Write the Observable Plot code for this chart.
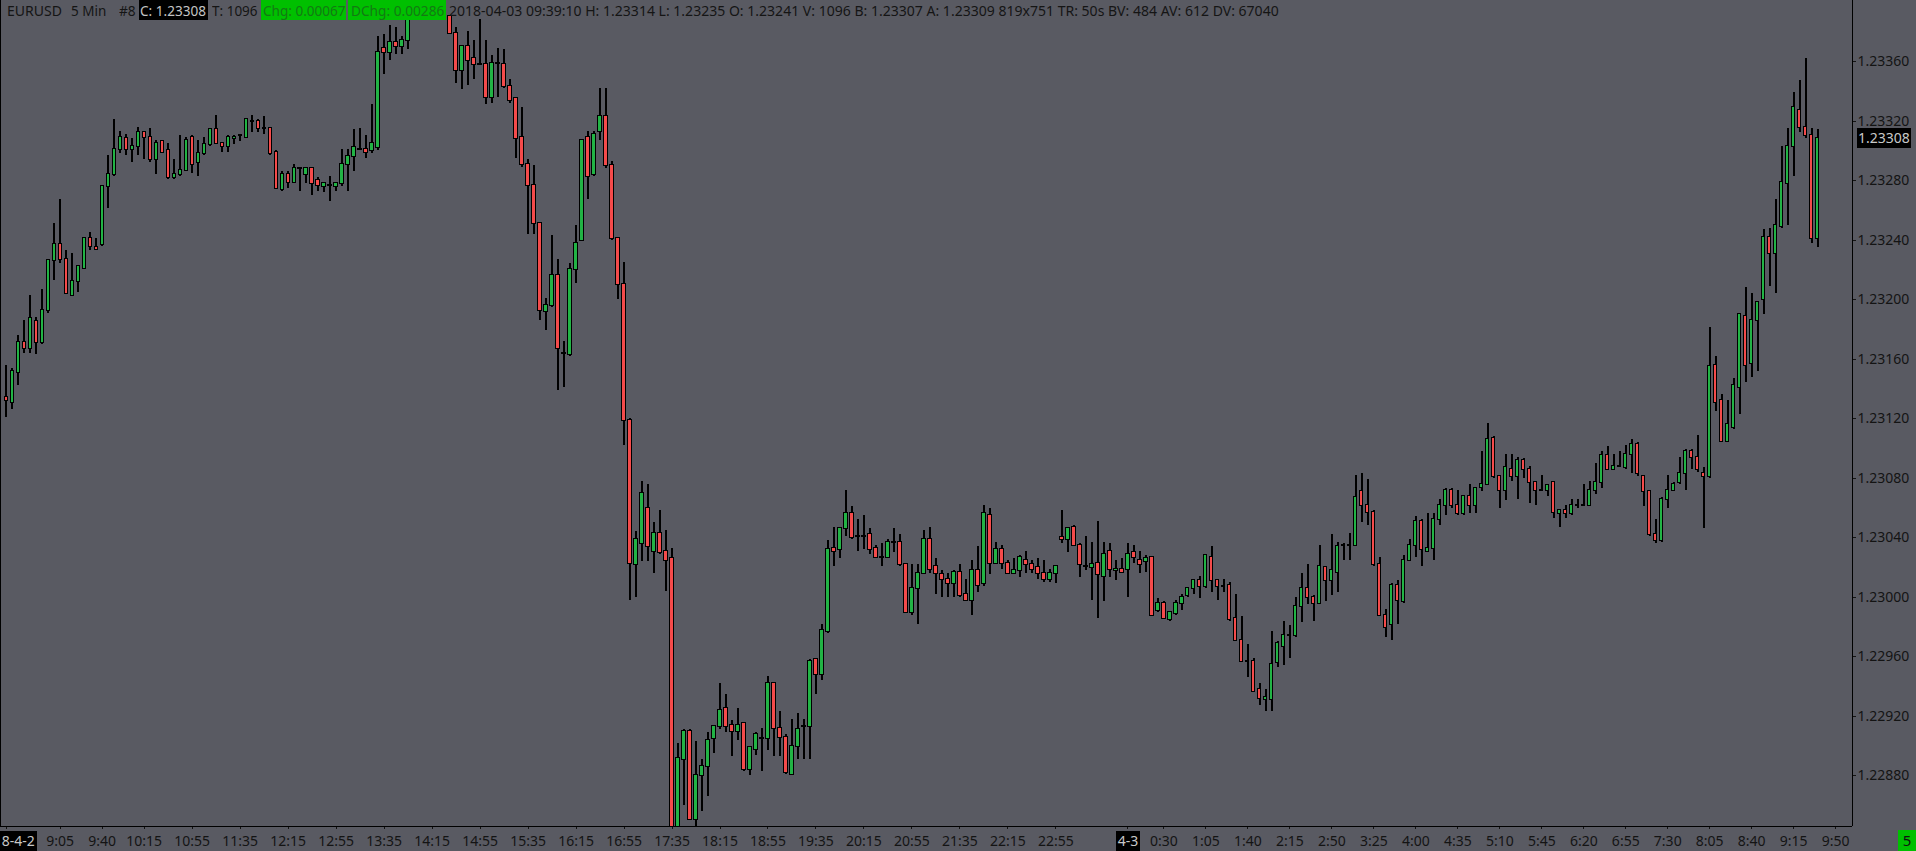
<!DOCTYPE html>
<html>
<head>
<meta charset="utf-8">
<script src="https://cdn.jsdelivr.net/npm/d3@7"></script>
<script src="https://cdn.jsdelivr.net/npm/@observablehq/plot@0.6"></script>
<style>
  html, body { margin: 0; padding: 0; background: #595a62; overflow: hidden; }
  #wrap { position: relative; width: 1916px; height: 851px; }
  #wrap svg { position: absolute; left: 0; top: 0; shape-rendering: crispEdges; }
  #wrap svg text { shape-rendering: auto; }
  .seg { position: absolute; top: 0; height: 20px; line-height: 20px; white-space: nowrap;
         font-family: "Segoe UI", "Noto Sans", sans-serif; font-size: 15px; color: #151515; }
  .seg span { display: inline-block; transform-origin: 0 50%; }
</style>
</head>
<body>
<div id="wrap"></div>
<script>
// ---------------- DATA (EURUSD, 5 Min bars, 2018-04-02 08:20 → 2018-04-03 09:35) ----------------
const openP = [
1.23134,1.23131,1.23151,1.23171,1.23167,1.23185,1.23171,1.23193,1.23226,1.23237,
1.23227,1.23203,1.23212,1.23221,1.23241,1.23235,1.23237,1.23276,1.23284,1.23301,
1.23308,1.23301,1.23303,1.23312,1.23309,1.23294,1.23306,1.23300,1.23282,1.23284,
1.23287,1.23309,1.23292,1.23298,1.23304,1.23314,1.23305,1.23303,1.23308,1.23310,
1.23309,1.23320,1.23320,1.23315,1.23315,1.23299,1.23274,1.23284,1.23279,1.23288,
1.23284,1.23288,1.23280,1.23276,1.23277,1.23276,1.23278,1.23291,1.23296,1.23301,
1.23301,1.23300,1.23302,1.23369,1.23366,1.23373,1.23370,1.23374,1.23393,1.23398,
1.23402,1.23399,1.23395,1.23397,1.23390,1.23379,1.23354,1.23370,1.23362,1.23358,
1.23358,1.23336,1.23359,1.23358,1.23343,1.23335,1.23309,1.23291,1.23277,1.23251,
1.23192,1.23196,1.23216,1.23164,1.23163,1.23220,1.23240,1.23309,1.23284,1.23313,
1.23323,1.23290,1.23241,1.23210,1.23119,1.23022,1.23036,1.23060,1.23031,1.23043,
1.23031,1.23026,1.22843,1.22891,1.22910,1.22851,1.22880,1.22886,1.22905,1.22913,
1.22925,1.22914,1.22910,1.22915,1.22884,1.22898,1.22905,1.22905,1.22942,1.22912,
1.22906,1.22881,1.22900,1.22913,1.22913,1.22958,1.22948,1.22977,1.23033,1.23032,
1.23046,1.23056,1.23041,1.23041,1.23042,1.23033,1.23027,1.23027,1.23037,1.23037,
1.23022,1.22990,1.23006,1.23016,1.23039,1.23021,1.23015,1.23012,1.23009,1.23017,
1.23002,1.22998,1.23018,1.23009,1.23055,1.23023,1.23032,1.23023,1.23016,1.23018,
1.23025,1.23022,1.23020,1.23016,1.23012,1.23016,1.23040,1.23039,1.23047,1.23035,
1.23021,1.23020,1.23023,1.23014,1.23031,1.23018,1.23019,1.23019,1.23030,1.23025,
1.23024,1.23027,1.22991,1.22996,1.22985,1.22989,1.22996,1.23001,1.23006,1.23011,
1.23007,1.23027,1.23011,1.23007,1.23008,1.22986,1.22971,1.22957,1.22957,1.22938,
1.22931,1.22931,1.22956,1.22967,1.22974,1.22974,1.22994,1.23006,1.23000,1.22996,
1.23020,1.23011,1.23017,1.23035,1.23035,1.23035,1.23071,1.23062,1.23057,1.23022,
1.22988,1.22982,1.23008,1.22997,1.23025,1.23035,1.23051,1.23031,1.23033,1.23052,
1.23062,1.23072,1.23062,1.23056,1.23068,1.23062,1.23074,1.23076,1.23107,1.23081,
1.23072,1.23086,1.23081,1.23092,1.23086,1.23077,1.23072,1.23072,1.23077,1.23056,
1.23058,1.23056,1.23062,1.23062,1.23062,1.23072,1.23077,1.23095,1.23086,1.23088,
1.23087,1.23096,1.23103,1.23081,1.23071,1.23042,1.23038,1.23066,1.23072,1.23077,
1.23083,1.23098,1.23094,1.23083,1.23081,1.23156,1.23132,1.23105,1.23114,1.23141,
1.23189,1.23157,1.23186,1.23200,1.23242,1.23231,1.23249,1.23278,1.23303,1.23327,
1.23316,1.23310,1.23241];
const highP = [
1.23156,1.23154,1.23176,1.23186,1.23203,1.23188,1.23207,1.23226,1.23251,1.23267,
1.23233,1.23231,1.23223,1.23241,1.23245,1.23241,1.23277,1.23297,1.23321,1.23313,
1.23311,1.23308,1.23316,1.23313,1.23315,1.23307,1.23307,1.23305,1.23294,1.23310,
1.23309,1.23310,1.23307,1.23309,1.23315,1.23324,1.23305,1.23310,1.23310,1.23311,
1.23322,1.23324,1.23321,1.23323,1.23316,1.23300,1.23286,1.23286,1.23291,1.23289,
1.23289,1.23289,1.23282,1.23279,1.23283,1.23279,1.23301,1.23301,1.23314,1.23315,
1.23310,1.23331,1.23377,1.23378,1.23384,1.23383,1.23377,1.23398,1.23400,1.23405,
1.23408,1.23404,1.23401,1.23400,1.23391,1.23383,1.23371,1.23380,1.23374,1.23388,
1.23374,1.23364,1.23369,1.23368,1.23348,1.23335,1.23329,1.23294,1.23290,1.23251,
1.23201,1.23243,1.23227,1.23172,1.23224,1.23250,1.23307,1.23313,1.23313,1.23342,
1.23342,1.23293,1.23241,1.23225,1.23120,1.23044,1.23078,1.23076,1.23050,1.23058,
1.23045,1.23033,1.22902,1.22911,1.22911,1.22903,1.22891,1.22909,1.22914,1.22942,
1.22935,1.22917,1.22925,1.22915,1.22899,1.22909,1.22912,1.22947,1.22943,1.22923,
1.22908,1.22918,1.22922,1.22918,1.22958,1.22958,1.22982,1.23038,1.23047,1.23047,
1.23072,1.23061,1.23052,1.23055,1.23046,1.23035,1.23036,1.23039,1.23046,1.23042,
1.23022,1.23022,1.23022,1.23045,1.23047,1.23026,1.23018,1.23016,1.23018,1.23022,
1.23012,1.23025,1.23034,1.23062,1.23060,1.23037,1.23035,1.23025,1.23026,1.23028,
1.23031,1.23025,1.23026,1.23025,1.23019,1.23021,1.23058,1.23047,1.23048,1.23036,
1.23041,1.23037,1.23051,1.23037,1.23036,1.23025,1.23026,1.23036,1.23035,1.23031,
1.23028,1.23027,1.22999,1.22997,1.22990,1.22998,1.23002,1.23006,1.23012,1.23014,
1.23029,1.23034,1.23012,1.23012,1.23010,1.23002,1.22987,1.22968,1.22959,1.22942,
1.22938,1.22977,1.22970,1.22984,1.22981,1.23000,1.23016,1.23022,1.23001,1.23035,
1.23021,1.23042,1.23037,1.23036,1.23043,1.23082,1.23083,1.23079,1.23058,1.23027,
1.22992,1.23009,1.23011,1.23028,1.23039,1.23054,1.23052,1.23056,1.23056,1.23066,
1.23073,1.23073,1.23072,1.23068,1.23076,1.23074,1.23098,1.23117,1.23108,1.23081,
1.23096,1.23096,1.23094,1.23093,1.23088,1.23078,1.23082,1.23076,1.23078,1.23058,
1.23062,1.23066,1.23066,1.23076,1.23078,1.23090,1.23098,1.23101,1.23096,1.23098,
1.23102,1.23106,1.23104,1.23082,1.23072,1.23052,1.23067,1.23082,1.23077,1.23094,
1.23099,1.23099,1.23109,1.23087,1.23181,1.23162,1.23136,1.23132,1.23147,1.23191,
1.23208,1.23204,1.23199,1.23247,1.23248,1.23267,1.23303,1.23315,1.23339,1.23347,
1.23362,1.23315,1.23314];
const lowP = [
1.23121,1.23126,1.23142,1.23164,1.23164,1.23163,1.23170,1.23191,1.23213,1.23224,
1.23204,1.23202,1.23205,1.23220,1.23233,1.23233,1.23236,1.23261,1.23283,1.23298,
1.23297,1.23292,1.23297,1.23294,1.23292,1.23284,1.23298,1.23281,1.23281,1.23283,
1.23286,1.23285,1.23283,1.23297,1.23303,1.23304,1.23299,1.23299,1.23304,1.23306,
1.23308,1.23312,1.23312,1.23311,1.23297,1.23274,1.23273,1.23275,1.23278,1.23273,
1.23278,1.23270,1.23273,1.23272,1.23266,1.23273,1.23276,1.23273,1.23286,1.23300,
1.23295,1.23298,1.23300,1.23351,1.23361,1.23365,1.23365,1.23368,1.23390,1.23394,
1.23396,1.23393,1.23391,1.23390,1.23378,1.23345,1.23341,1.23344,1.23348,1.23357,
1.23331,1.23332,1.23336,1.23342,1.23332,1.23295,1.23289,1.23244,1.23244,1.23186,
1.23179,1.23195,1.23139,1.23141,1.23162,1.23211,1.23239,1.23267,1.23283,1.23307,
1.23288,1.23240,1.23200,1.23102,1.22998,1.23000,1.23024,1.23024,1.23016,1.23029,
1.23004,1.22835,1.22836,1.22860,1.22850,1.22845,1.22856,1.22866,1.22895,1.22911,
1.22909,1.22893,1.22904,1.22883,1.22880,1.22894,1.22883,1.22897,1.22893,1.22893,
1.22881,1.22880,1.22891,1.22891,1.22891,1.22935,1.22944,1.22976,1.23021,1.23026,
1.23041,1.23039,1.23031,1.23032,1.23029,1.23026,1.23021,1.23026,1.23030,1.23021,
1.22989,1.22988,1.22982,1.23015,1.23016,1.23002,1.23000,1.23000,1.23000,1.23000,
1.22997,1.22988,1.23003,1.23007,1.23015,1.23022,1.23019,1.23015,1.23015,1.23013,
1.23016,1.23016,1.23012,1.23010,1.23010,1.23009,1.23036,1.23030,1.23034,1.23013,
1.23018,1.22998,1.22986,1.22997,1.23013,1.23011,1.23016,1.23000,1.23023,1.23016,
1.23017,1.22987,1.22990,1.22985,1.22984,1.22988,1.22991,1.23000,1.23002,1.22999,
1.23006,1.23003,1.22998,1.23003,1.22984,1.22970,1.22956,1.22946,1.22936,1.22927,
1.22923,1.22923,1.22953,1.22954,1.22959,1.22973,1.22983,1.22995,1.22984,1.22995,
1.22997,1.23001,1.23003,1.23025,1.23025,1.23034,1.23050,1.23048,1.23021,1.22987,
1.22973,1.22971,1.22982,1.22996,1.23024,1.23027,1.23021,1.23030,1.23025,1.23048,
1.23055,1.23060,1.23055,1.23055,1.23056,1.23056,1.23071,1.23075,1.23080,1.23060,
1.23065,1.23078,1.23066,1.23080,1.23063,1.23062,1.23071,1.23068,1.23053,1.23047,
1.23053,1.23055,1.23060,1.23061,1.23061,1.23069,1.23073,1.23085,1.23085,1.23087,
1.23086,1.23083,1.23081,1.23061,1.23041,1.23036,1.23037,1.23060,1.23071,1.23076,
1.23072,1.23086,1.23084,1.23046,1.23080,1.23125,1.23104,1.23104,1.23113,1.23123,
1.23144,1.23148,1.23152,1.23190,1.23209,1.23204,1.23248,1.23250,1.23283,1.23312,
1.23308,1.23238,1.23235];
const closeP = [
1.23132,1.23152,1.23171,1.23167,1.23187,1.23171,1.23193,1.23226,1.23237,1.23227,
1.23204,1.23212,1.23222,1.23241,1.23236,1.23234,1.23276,1.23284,1.23301,1.23309,
1.23301,1.23303,1.23312,1.23309,1.23294,1.23305,1.23299,1.23282,1.23284,1.23287,
1.23307,1.23291,1.23298,1.23304,1.23314,1.23305,1.23303,1.23309,1.23309,1.23310,
1.23321,1.23320,1.23315,1.23315,1.23298,1.23275,1.23284,1.23279,1.23288,1.23288,
1.23288,1.23278,1.23277,1.23278,1.23277,1.23278,1.23291,1.23296,1.23302,1.23301,
1.23299,1.23305,1.23366,1.23366,1.23373,1.23370,1.23374,1.23393,1.23398,1.23402,
1.23399,1.23395,1.23397,1.23391,1.23379,1.23354,1.23370,1.23361,1.23358,1.23358,
1.23336,1.23359,1.23359,1.23343,1.23334,1.23308,1.23291,1.23277,1.23251,1.23193,
1.23196,1.23216,1.23167,1.23164,1.23220,1.23238,1.23307,1.23283,1.23311,1.23323,
1.23290,1.23241,1.23210,1.23119,1.23023,1.23039,1.23070,1.23034,1.23043,1.23030,
1.23025,1.22842,1.22892,1.22910,1.22851,1.22880,1.22886,1.22904,1.22913,1.22924,
1.22913,1.22910,1.22914,1.22884,1.22899,1.22908,1.22905,1.22942,1.22912,1.22906,
1.22882,1.22900,1.22911,1.22913,1.22957,1.22948,1.22978,1.23032,1.23031,1.23046,
1.23056,1.23040,1.23041,1.23041,1.23032,1.23027,1.23027,1.23037,1.23037,1.23022,
1.22990,1.23006,1.23016,1.23039,1.23019,1.23016,1.23012,1.23009,1.23017,1.23001,
1.22998,1.23018,1.23008,1.23056,1.23023,1.23032,1.23023,1.23016,1.23018,1.23027,
1.23022,1.23019,1.23016,1.23012,1.23016,1.23021,1.23039,1.23046,1.23035,1.23022,
1.23021,1.23022,1.23015,1.23029,1.23019,1.23019,1.23017,1.23029,1.23027,1.23022,
1.23026,1.22988,1.22996,1.22986,1.22990,1.22996,1.23000,1.23006,1.23011,1.23007,
1.23028,1.23011,1.23007,1.23007,1.22985,1.22971,1.22957,1.22957,1.22937,1.22932,
1.22933,1.22955,1.22969,1.22974,1.22974,1.22994,1.23006,1.23000,1.22996,1.23021,
1.23011,1.23018,1.23034,1.23035,1.23035,1.23067,1.23062,1.23057,1.23022,1.22988,
1.22980,1.23008,1.22998,1.23025,1.23035,1.23051,1.23032,1.23033,1.23052,1.23062,
1.23072,1.23062,1.23056,1.23068,1.23062,1.23073,1.23076,1.23106,1.23081,1.23072,
1.23087,1.23081,1.23092,1.23086,1.23077,1.23072,1.23072,1.23075,1.23057,1.23058,
1.23056,1.23062,1.23062,1.23062,1.23072,1.23077,1.23095,1.23086,1.23088,1.23088,
1.23096,1.23103,1.23083,1.23071,1.23042,1.23038,1.23066,1.23072,1.23076,1.23083,
1.23098,1.23094,1.23086,1.23081,1.23155,1.23131,1.23105,1.23116,1.23142,1.23190,
1.23156,1.23186,1.23198,1.23242,1.23231,1.23250,1.23279,1.23303,1.23329,1.23316,
1.23310,1.23241,1.23308];

const firstBarTime = "8:20";   // first bar of 2018-4-2
const lastBarTime = "9:35";    // last bar of 2018-4-3
const dateLabels = ["2018-4-2", "4-3"];
const xTickLabels = ["2018-4-2","9:05","9:40","10:15","10:55","11:35","12:15","12:55","13:35","14:15",
  "14:55","15:35","16:15","16:55","17:35","18:15","18:55","19:35","20:15","20:55","21:35","22:15","22:55",
  "4-3","0:30","1:05","1:40","2:15","2:50","3:25","4:00","4:35","5:10","5:45","6:20","6:55","7:30",
  "8:05","8:40","9:15","9:50"];
const yTicks = [1.22880,1.22920,1.22960,1.23000,1.23040,1.23080,1.23120,1.23160,1.23200,1.23240,1.23280,1.23320,1.23360];

const headerText = [
  {t: "EURUSD"}, {t: "5 Min"}, {t: "#8"},
  {t: "C: " + closeP[closeP.length - 1].toFixed(5), kind: "dark"},
  {t: "T: 1096"},
  {t: "Chg: 0.00067", kind: "green"},
  {t: "DChg: 0.00286", kind: "green"},
  {t: "2018-04-03 09:39:10 H: " + highP[highP.length-1].toFixed(5) + " L: " + lowP[lowP.length-1].toFixed(5) +
      " O: " + openP[openP.length-1].toFixed(5) + " V: 1096 B: 1.23307 A: 1.23309 819x751 TR: 50s BV: 484 AV: 612 DV: 67040"}
];
const intervalBadge = "5";

// ---------------- STYLE ----------------
const BG = "#595a62";
const UP = "#22b345";
const DOWN = "#f44b4b";
const FONT = "'Segoe UI', 'Noto Sans', sans-serif";

// ---------------- BUILD ----------------
const bars = openP.map((o, i) => ({i, o, h: highP[i], l: lowP[i], c: closeP[i]}));
const toMin = s => { const [h, m] = s.split(":").map(Number); return h * 60 + m; };
const lastIdx = bars.length - 1;
const day2Start = lastIdx - toMin(lastBarTime) / 5;   // index of the first bar of 4-3
const tickIdx = [];
const labelAt = new Map();
let day = 0;
for (const lab of xTickLabels) {
  let idx;
  if (lab === dateLabels[0]) { idx = 0; day = 0; }
  else if (lab === dateLabels[1]) { idx = day2Start; day = 1; }
  else idx = day === 0 ? (toMin(lab) - toMin(firstBarTime)) / 5 : day2Start + toMin(lab) / 5;
  tickIdx.push(idx); labelAt.set(idx, lab);
}
const xDomain = [-0.95, 307.8];
const yDomain = [1.22846, 1.23401];
const last = bars[lastIdx];

const chart = Plot.plot({
  width: 1916, height: 851,
  marginLeft: 0, marginRight: 64, marginTop: 0, marginBottom: 25,
  style: {background: BG, color: "#141414", fontFamily: FONT, fontSize: "14px", overflow: "visible"},
  x: {type: "linear", domain: xDomain, ticks: tickIdx, tickFormat: i => labelAt.get(i), tickSize: 3, tickPadding: 7, label: null},
  y: {type: "linear", domain: yDomain, ticks: yTicks, tickFormat: d => d.toFixed(5), tickSize: 3, tickPadding: 2, axis: "right", label: null},
  marks: [
    Plot.ruleX(bars, {x: "i", y1: "l", y2: "h", stroke: "#000", strokeWidth: 2, clip: true}),
    Plot.rect(bars, {x1: d => d.i - 0.27, x2: d => d.i + 0.27, y1: "o", y2: "c",
      fill: d => d.c > d.o ? UP : d.c < d.o ? DOWN : "#000",
      stroke: "#000", strokeWidth: 1, insetTop: -0.5, insetBottom: -0.5, clip: true}),
    Plot.ruleY([yDomain[0]], {stroke: "#000", strokeWidth: 1.5}),
    Plot.ruleX([xDomain[0], xDomain[1]], {stroke: "#000", strokeWidth: 1.5}),
    Plot.text([last], {x: () => xDomain[1], y: "c", text: d => d.c.toFixed(5), dx: 5.5, textAnchor: "start",
      fill: "#c8c8c8", fontSize: 14})
  ]
});
const wrap = document.getElementById("wrap");
wrap.appendChild(chart);

// black boxes behind the date labels and the last-price label
const boxed = new Set([...dateLabels, last.c.toFixed(5)]);
chart.querySelectorAll("text").forEach(t => {
  if (!boxed.has(t.textContent)) return;
  const b = t.getBBox();
  const r = document.createElementNS("http://www.w3.org/2000/svg", "rect");
  const isPrice = t.textContent === last.c.toFixed(5);
  r.setAttribute("x", b.x - (isPrice ? 1.5 : 2));
  r.setAttribute("width", b.width + (isPrice ? 3 : 4));
  r.setAttribute("y", isPrice ? b.y + b.height / 2 - 10 : b.y);
  r.setAttribute("height", isPrice ? 20 : b.height + 3);
  r.setAttribute("fill", "#000");
  if (t.getAttribute("transform")) r.setAttribute("transform", t.getAttribute("transform"));
  t.parentNode.insertBefore(r, t);
  t.setAttribute("fill", "#c8c8c8");
});

// header line (absolutely laid out segments fitted to measured widths)
const segLayout = [[6.7, 55], [70.7, 35.3], [119.3, 16.7], [140, 66, 139, 68.7], [211.7, 45.6],
  [262.5, 82.5, 261, 85.4], [350.7, 93.3, 348.3, 97.7], [449.3, 829.7]];
headerText.forEach((h, k) => {
  const [x, w, bx, bw] = segLayout[k];
  if (h.kind) {
    const box = document.createElement("div");
    box.style.cssText = `position:absolute;top:0;left:${bx}px;width:${bw}px;height:20px;background:${h.kind === "dark" ? "#000" : "#00c000"}`;
    wrap.appendChild(box);
  }
  const d = document.createElement("div");
  d.className = "seg";
  d.style.left = x + "px";
  const s = document.createElement("span");
  s.textContent = h.t;
  if (h.kind === "dark") s.style.color = "#c4c4c4";
  if (h.kind === "green") s.style.color = "#137a13";
  d.appendChild(s);
  wrap.appendChild(d);
  const aw = s.getBoundingClientRect().width;
  if (aw > 0) s.style.transform = `scaleX(${w / aw})`;
});
const badge = document.createElement("div");
badge.textContent = intervalBadge;
badge.style.cssText = `position:absolute;left:1898px;top:830px;width:18px;height:21px;background:#00c000;color:#111;font:15px ${FONT};line-height:21px;text-align:center`;
wrap.appendChild(badge);
</script>
</body>
</html>
